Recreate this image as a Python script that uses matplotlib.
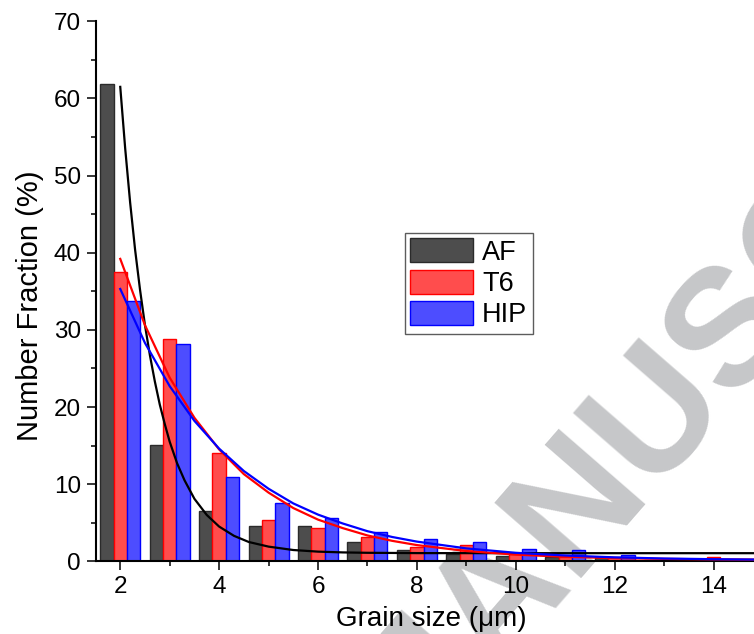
import matplotlib
matplotlib.use('Agg')
import matplotlib.pyplot as plt
from matplotlib.ticker import MultipleLocator
import numpy as np

plt.rcParams['font.family'] = ['Liberation Sans', 'DejaVu Sans']

# grain size classes (um)
sizes = [2, 3, 4, 5, 6, 7, 8, 9, 10, 11, 12, 13, 14, 15]
af  = [61.9, 15.1, 6.5, 4.6, 4.6, 2.5, 1.4, 0.95, 0.7, 0.55, 0.4, 0.2, 0.1, 0.1]
t6  = [37.5, 28.8, 14.1, 5.4, 4.3, 3.1, 1.8, 2.1, 0.9, 0.5, 0.5, 0.2, 0.5, 0.1]
hip = [33.8, 28.2, 10.9, 7.6, 5.6, 3.8, 2.9, 2.55, 1.55, 1.4, 0.85, 0.3, 0.2, 0.1]

# fitted decay curves
fit_x_af = [2.0, 2.1, 2.2, 2.3, 2.4, 2.5, 2.6, 2.7, 2.8, 2.9, 3.0, 3.15, 3.3, 3.5,
            3.75, 4.0, 4.3, 4.6, 5.0, 5.5, 6.0, 6.5, 7.0, 8.0, 10.0, 15.5]
fit_af = [61.5, 53.5, 46.5, 40.4, 35.2, 30.6, 26.7, 23.3, 20.3, 17.8, 15.5, 12.7, 10.5, 8.1,
          6.0, 4.5, 3.3, 2.5, 1.9, 1.46, 1.25, 1.15, 1.10, 1.06, 1.05, 1.05]
fit_x = [2.0, 2.5, 3.0, 3.5, 4.0, 4.5, 5.0, 5.5, 6.0, 6.5, 7.0, 7.5, 8.0, 9.0,
         10.0, 11.0, 12.0, 13.0, 14.0, 15.5]
fit_t6 = [39.2, 30.6, 23.8, 18.6, 14.5, 11.3, 8.9, 6.9, 5.4, 4.3, 3.35, 2.65, 2.1, 1.33,
          0.86, 0.58, 0.41, 0.31, 0.25, 0.2]
fit_hip = [35.3, 28.3, 22.7, 18.2, 14.6, 11.7, 9.4, 7.5, 6.05, 4.9, 3.9, 3.15, 2.55, 1.67,
           1.1, 0.75, 0.51, 0.36, 0.27, 0.19]

fig = plt.figure(figsize=(7.54, 6.34), dpi=100)

# watermark behind the plot
fig.text(0.972, 0.487, 'MANUSCRIPT', fontsize=120, fontweight='bold', color='#c6c7c9',
         rotation=49, ha='center', va='center', rotation_mode='anchor', zorder=-5)

ax = fig.add_axes([0.1267, 0.1147, 0.918, 0.8517])
ax.patch.set_visible(False)

x = np.array(sizes)
w = 0.27
ax.bar(x - w, af, w, color='#4d4d4d', edgecolor='#2b2b2b', linewidth=1, label='AF', zorder=2)
ax.bar(x, t6, w, color='#ff4d4d', edgecolor='#ff0000', linewidth=1, label='T6', zorder=2)
ax.bar(x + w, hip, w, color='#4d4dff', edgecolor='#0000ff', linewidth=1, label='HIP', zorder=2)

ax.plot(fit_x_af, fit_af, color='black', lw=1.6, zorder=3)
ax.plot(fit_x, fit_t6, color='#ff0000', lw=1.6, zorder=3)
ax.plot(fit_x, fit_hip, color='#0000ff', lw=1.6, zorder=3)

ax.set_xlim(1.5, 15.5)
ax.set_ylim(0, 70)
ax.xaxis.set_major_locator(MultipleLocator(2))
ax.xaxis.set_minor_locator(MultipleLocator(1))
ax.yaxis.set_major_locator(MultipleLocator(10))
ax.yaxis.set_minor_locator(MultipleLocator(5))
ax.tick_params(which='major', direction='out', length=6.5, width=1.1, labelsize=17.5, pad=4)
ax.tick_params(which='minor', direction='out', length=3.6, width=1.1)
for s in ['top', 'right']:
    ax.spines[s].set_visible(False)
for s in ['left', 'bottom']:
    ax.spines[s].set_linewidth(1.5)

ax.set_xlabel('Grain size (\u03bcm)', fontsize=20)
ax.xaxis.set_label_coords(0.485, -0.083)
ax.xaxis.label.set_verticalalignment('top')
ax.set_ylabel('Number Fraction (%)', fontsize=21)
ax.yaxis.set_label_coords(-0.094, 0.474)
ax.yaxis.label.set_verticalalignment('center')

leg = ax.legend(loc='upper left', bbox_to_anchor=(405 / 754, 1 - 232.7 / 634),
                bbox_transform=fig.transFigure, fontsize=19.5, frameon=True, fancybox=False,
                handlelength=2.3, handleheight=1.0, labelspacing=0.15, handletextpad=0.35,
                borderpad=0.2, borderaxespad=0)
leg.get_frame().set_edgecolor('#333333')
leg.get_frame().set_linewidth(1.0)

fig.savefig('out.png', dpi=100)
